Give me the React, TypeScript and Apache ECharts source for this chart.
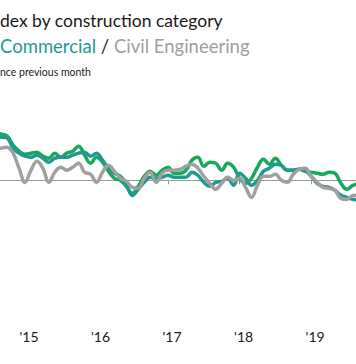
import React, { useEffect, useRef } from "react";
import * as echarts from "echarts";

const months: string[] = [
  "2014-08", "2014-09", "2014-10", "2014-11", "2014-12",
  "2015-01", "2015-02", "2015-03", "2015-04", "2015-05", "2015-06", "2015-07", "2015-08", "2015-09", "2015-10", "2015-11", "2015-12",
  "2016-01", "2016-02", "2016-03", "2016-04", "2016-05", "2016-06", "2016-07", "2016-08", "2016-09", "2016-10", "2016-11", "2016-12",
  "2017-01", "2017-02", "2017-03", "2017-04", "2017-05", "2017-06", "2017-07", "2017-08", "2017-09", "2017-10", "2017-11", "2017-12",
  "2018-01", "2018-02", "2018-03", "2018-04", "2018-05", "2018-06", "2018-07", "2018-08", "2018-09", "2018-10", "2018-11", "2018-12",
  "2019-01", "2019-02", "2019-03", "2019-04", "2019-05", "2019-06", "2019-07", "2019-08", "2019-09",
];

const residential: number[] = [
  2.35, 2.3, 2.2, 1.75, 1.45,
  1.3, 1.35, 1.4, 1.2, 1.1, 1.35, 1.15, 1.35, 1.45, 1.7, 1.25, 0.85,
  1.15, 0.9, 0.45, 0.1, 0, -0.3, -0.65, -0.3, 0.2, 0.45, 0.25, 0.5,
  0.65, 0.35, 0.35, 0.5, 1.0, 1.15, 0.7, 0.9, 0.85, 0.5, 0.85, 0.65,
  0.1, -0.15, 0.1, 0.65, 1.05, 0.8, 1.1, 0.75, 0.5, 0.5, 0.55, 0.45,
  0.4, 0.35, 0.3, 0.4, 0.35, -0.15, -0.45, -0.25, -0.2,
];

const commercial: number[] = [
  2.2, 2.15, 2.1, 1.6, 1.35,
  1.2, 1.15, 1.25, 1.1, 0.9, 1.1, 1.15, 1.15, 1.25, 1.35, 1.4, 1.2,
  1.35, 1.0, 0.6, 0.35, 0.2, -0.2, -0.75, -0.45, -0.1, 0.15, 0.1, 0.15,
  0.25, 0.15, 0.15, 0.15, 0.4, 0.25, -0.1, -0.3, -0.1, -0.05, 0.1, -0.25,
  0.35, 0.1, -0.25, 0, 0.45, 0.6, 0.8, 0.75, 0.5, 0.5, 0.55, 0.5,
  0.2, -0.15, -0.3, -0.35, -0.5, -0.75, -0.85, -0.95, -1.0,
];

const civilEngineering: number[] = [
  1.5, 1.6, 1.65, 1.35, 0.6,
  -0.1, 0.5, 0.95, 0.6, -0.1, 0.4, 0.65, 0.5, 0.65, 0.85, 0.4, 0.3,
  -0.1, 0.4, 0.75, 0.45, 0.1, -0.05, -0.35, -0.4, 0.1, 0.4, -0.1, 0.35,
  0.5, 0.5, 0.55, 0.7, 0.8, 0.6, 0.2, -0.15, -0.45, -0.15, 0.15, 0,
  0.1, -0.35, -0.85, -0.25, 0.2, 0.2, 0.3, 0, -0.1, 0.3, 0.55, 0.6,
  0.2, -0.1, -0.35, -0.4, -0.5, -0.9, -0.95, -0.75, -0.75,
];

const titleText = "dex by construction category";
const subtitleParts = ["Commercial", " / ", "Civil Engineering"];
const noteText = "nce previous month";

const GREEN = "#17a85b";
const TEAL = "#1f9a90";
const GRAY = "#a0a0a0";
const FONT = "Lato, 'Noto Sans', sans-serif";
const SHIFT = 20;

const isJan = (_i: number, v: string) => v.endsWith("-01");

export default function App() {
  const ref = useRef<HTMLDivElement>(null);
  useEffect(() => {
    if (!ref.current) return;
    const chart = echarts.init(ref.current, undefined, { renderer: "svg" });
    chart.setOption({
      animation: false,
      backgroundColor: "#ffffff",
      grid: { left: SHIFT - 4.8, right: 396 - SHIFT - 358.8, top: 120, bottom: 364 - 321, containLabel: false },
      graphic: [
        {
          type: "text",
          left: SHIFT,
          top: 11,
          style: { text: titleText, fill: "#1a1a1a", font: `17.5px ${FONT}` },
        },
        {
          type: "text",
          left: SHIFT,
          top: 36,
          style: {
            text: `{a|${subtitleParts[0]}}{b|${subtitleParts[1]}}{c|${subtitleParts[2]}}`,
            rich: {
              a: { fill: TEAL, fontSize: 18.5, fontFamily: FONT },
              b: { fill: "#1a1a1a", fontSize: 18.5, fontFamily: FONT },
              c: { fill: GRAY, fontSize: 18.5, fontFamily: FONT },
            },
          },
        },
        {
          type: "text",
          left: SHIFT,
          top: 66,
          style: { text: noteText, fill: "#1a1a1a", font: `10.5px ${FONT}` },
        },
      ],
      xAxis: [
        {
          type: "category",
          data: months,
          boundaryGap: false,
          position: "bottom",
          axisLine: { show: false, onZero: false },
          axisTick: { show: false },
          splitLine: { show: false },
          axisLabel: {
            interval: isJan,
            formatter: (v: string) => "'" + v.slice(2, 4),
            color: "#1a1a1a",
            fontSize: 14,
            fontFamily: FONT,
            margin: 8,
            padding: [0, 0, 0, 8],
          },
        },
        {
          type: "category",
          data: months,
          boundaryGap: false,
          position: "bottom",
          axisLine: { show: true, onZero: true, onZeroAxisIndex: 0, lineStyle: { color: "#9a9a9a", width: 1 } },
          axisTick: { show: true, interval: isJan, length: 4, lineStyle: { color: "#9a9a9a" } },
          axisLabel: { show: false },
          splitLine: { show: false },
        },
      ],
      yAxis: {
        type: "value",
        min: -7,
        max: 3,
        show: false,
        splitLine: { show: false },
      },
      series: [
        {
          name: "Residential",
          type: "line",
          data: residential,
          smooth: 0.4,
          showSymbol: false,
          lineStyle: { color: GREEN, width: 3.5, cap: "round", join: "round" },
          itemStyle: { color: GREEN },
          z: 2,
        },
        {
          name: "Commercial",
          type: "line",
          data: commercial,
          smooth: 0.4,
          showSymbol: false,
          lineStyle: { color: TEAL, width: 3.5, cap: "round", join: "round" },
          itemStyle: { color: TEAL },
          z: 3,
        },
        {
          name: "Civil Engineering",
          type: "line",
          data: civilEngineering,
          smooth: 0.4,
          showSymbol: false,
          lineStyle: { color: GRAY, width: 3.5, cap: "round", join: "round" },
          itemStyle: { color: GRAY },
          z: 4,
        },
      ],
    });
    return () => chart.dispose();
  }, []);
  return (
    <div style={{ position: "fixed", left: 0, top: 0, width: 356, height: 364, overflow: "hidden", background: "#fff" }}>
      <div ref={ref} style={{ position: "absolute", left: -SHIFT, top: 0, width: 396, height: 364 }} />
    </div>
  );
}
